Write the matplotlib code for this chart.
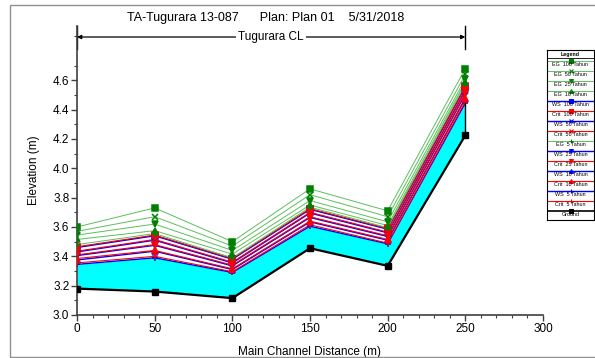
import matplotlib.pyplot as plt
from matplotlib.patches import Rectangle
from matplotlib.ticker import MultipleLocator, FixedLocator

plt.rcParams['font.family'] = ['Liberation Sans', 'DejaVu Sans']

# Profile data (main channel distance in m, elevations in m)
dist = [0, 50, 100, 150, 200, 250]
ground = [3.18, 3.16, 3.115, 3.455, 3.335, 4.225]

eg_100 = [3.60, 3.73, 3.50, 3.86, 3.71, 4.68]
eg_50 = [3.57, 3.67, 3.47, 3.82, 3.67, 4.64]
eg_25 = [3.545, 3.62, 3.44, 3.78, 3.635, 4.61]
eg_10 = [3.515, 3.575, 3.415, 3.75, 3.61, 4.59]
eg_5 = [3.48, 3.555, 3.39, 3.735, 3.595, 4.575]

ws_100 = [3.46, 3.54, 3.38, 3.72, 3.585, 4.555]
ws_50 = [3.43, 3.51, 3.355, 3.695, 3.56, 4.53]
ws_25 = [3.405, 3.475, 3.335, 3.665, 3.535, 4.505]
ws_10 = [3.375, 3.435, 3.31, 3.635, 3.51, 4.475]
ws_5 = [3.345, 3.39, 3.29, 3.605, 3.485, 4.445]

crit_100 = [3.465, 3.545, 3.385, 3.725, 3.59, 4.56]
crit_50 = [3.435, 3.515, 3.36, 3.70, 3.565, 4.535]
crit_25 = [3.41, 3.48, 3.34, 3.67, 3.54, 4.51]
crit_10 = [3.385, 3.44, 3.315, 3.64, 3.515, 4.48]
crit_5 = [3.355, 3.40, 3.295, 3.615, 3.49, 4.455]

reach_name = 'Tugurara CL'
title = 'TA-Tugurara 13-087      Plan: Plan 01    5/31/2018'

EG_LINE = '#5CBF5C'
EG_MARK = '#008000'
WS_COL = '#0000FF'
CRIT_COL = '#FF0000'

# (label, values, line colour, marker colour, marker, linewidth) in legend order
series = [
    ('EG  100 Tahun', eg_100, EG_LINE, EG_MARK, 's', 0.7),
    ('EG  50 Tahun', eg_50, EG_LINE, EG_MARK, 'x', 0.7),
    ('EG  25 Tahun', eg_25, EG_LINE, EG_MARK, 'v', 0.7),
    ('EG  10 Tahun', eg_10, EG_LINE, EG_MARK, '^', 0.7),
    ('WS  100 Tahun', ws_100, WS_COL, WS_COL, 's', 1.0),
    ('Crit  100 Tahun', crit_100, CRIT_COL, CRIT_COL, 's', 0.8),
    ('WS  50 Tahun', ws_50, WS_COL, WS_COL, 'x', 1.0),
    ('Crit  50 Tahun', crit_50, CRIT_COL, CRIT_COL, 'x', 0.8),
    ('EG  5 Tahun', eg_5, EG_LINE, EG_MARK, '+', 0.7),
    ('WS  25 Tahun', ws_25, WS_COL, WS_COL, 'v', 1.0),
    ('Crit  25 Tahun', crit_25, CRIT_COL, CRIT_COL, 'v', 0.8),
    ('WS  10 Tahun', ws_10, WS_COL, WS_COL, '^', 1.0),
    ('Crit  10 Tahun', crit_10, CRIT_COL, CRIT_COL, '^', 0.8),
    ('WS  5 Tahun', ws_5, WS_COL, WS_COL, '+', 1.0),
    ('Crit  5 Tahun', crit_5, CRIT_COL, CRIT_COL, '+', 0.8),
]

fig = plt.figure(figsize=(5.95, 3.58), dpi=100)
W, H = 595, 358

# grey frame around the whole plot window
fig.patches.append(Rectangle((10 / W, 1 / H), 1.0, (H - 6) / H,
                             transform=fig.transFigure, fill=False,
                             edgecolor='#909090', linewidth=1.0))

ax = fig.add_axes([77 / W, (H - 315) / H, 466 / W, 289 / H])

# water fill between ground and lowest water surface
ax.fill_between(dist, ground, ws_5, color='#00FFFF', linewidth=0, zorder=1)

# WS first, then Crit, then EG on top
order = [s for s in series if s[0].startswith('WS')] + \
        [s for s in series if s[0].startswith('Crit')] + \
        [s for s in series if s[0].startswith('EG')]
for label, vals, lc, mc, mk, lw in order:
    ax.plot(dist, vals, color=lc, linewidth=lw, zorder=2)
    ax.plot(dist, vals, linestyle='none', marker=mk, markersize=3.8,
            color=mc, markeredgewidth=1.1, zorder=3)

ax.plot([dist[-1], dist[-1]], [ground[-1], ws_5[-1]], color='black',
        linewidth=1.0, zorder=4)
ax.plot(dist, ground, color='black', linewidth=1.6, marker='s',
        markersize=4.2, zorder=5)

ax.set_xlim(0, 300)
ax.set_ylim(3.0, 4.97)
ax.xaxis.set_major_locator(MultipleLocator(50))
ax.xaxis.set_minor_locator(MultipleLocator(10))
ax.yaxis.set_major_locator(FixedLocator([3.0, 3.2, 3.4, 3.6, 3.8, 4.0, 4.2, 4.4, 4.6]))
ax.yaxis.set_minor_locator(FixedLocator([3.1, 3.3, 3.5, 3.7, 3.9, 4.1, 4.3, 4.5, 4.7, 4.9]))
ax.yaxis.set_major_formatter(plt.FormatStrFormatter('%.1f'))
ax.tick_params(which='major', direction='out', length=4, width=1.0,
               labelsize=8.5, color='#404040', pad=1.5)
ax.tick_params(which='minor', direction='out', length=2.5, width=0.8,
               color='#404040')
for side in ('top', 'right'):
    ax.spines[side].set_visible(False)
for side in ('left', 'bottom'):
    ax.spines[side].set_color('#404040')
    ax.spines[side].set_linewidth(1.2)

ax.set_xlabel('Main Channel Distance (m)', fontsize=8.5, labelpad=8)
ax.set_ylabel('Elevation (m)', fontsize=8.5, labelpad=9)

# reach extent bracket
y_arrow = 4.895
ax.annotate('', xy=(dist[0], y_arrow), xytext=(dist[-1], y_arrow),
            arrowprops=dict(arrowstyle='<|-|>', color='black', lw=0.9,
                            shrinkA=0, shrinkB=0, mutation_scale=6),
            annotation_clip=False)
for xb in (dist[0], dist[-1]):
    ax.plot([xb, xb], [4.81, 4.97], color='black', linewidth=1.0, clip_on=False)
ax.text((dist[0] + dist[-1]) / 2, y_arrow, reach_name, ha='center', va='center',
        fontsize=8.5, zorder=6,
        bbox=dict(facecolor='white', edgecolor='none', pad=1.5))

fig.text(266 / W, (H - 18) / H, title, ha='center', va='center', fontsize=9)

# legend box
lg = fig.add_axes([547 / W, (H - 220) / H, 47 / W, 170 / H])
lg.set_xlim(0, 1)
lg.set_ylim(170, 0)
lg.set_xticks([])
lg.set_yticks([])
for sp in lg.spines.values():
    sp.set_linewidth(0.8)
lg.text(0.5, 4.2, 'Legend', ha='center', va='center', fontsize=3.8,
        fontweight='bold')
lg.axhline(8, color='black', linewidth=0.6)
entries = series + [('Ground', ground, 'black', 'black', 's', 1.2)]
for i, (label, vals, lc, mc, mk, lw) in enumerate(entries):
    y0 = 8 + i * 10
    lg.plot([0, 1], [y0 + 2.5, y0 + 2.5], color=lc, linewidth=lw)
    lg.plot([0.5], [y0 + 2.5], marker=mk, color=mc, markersize=2.8,
            markeredgewidth=0.8)
    lg.text(0.5, y0 + 7, label, ha='center', va='center', fontsize=3.9)

fig.savefig('out.png', dpi=100)
